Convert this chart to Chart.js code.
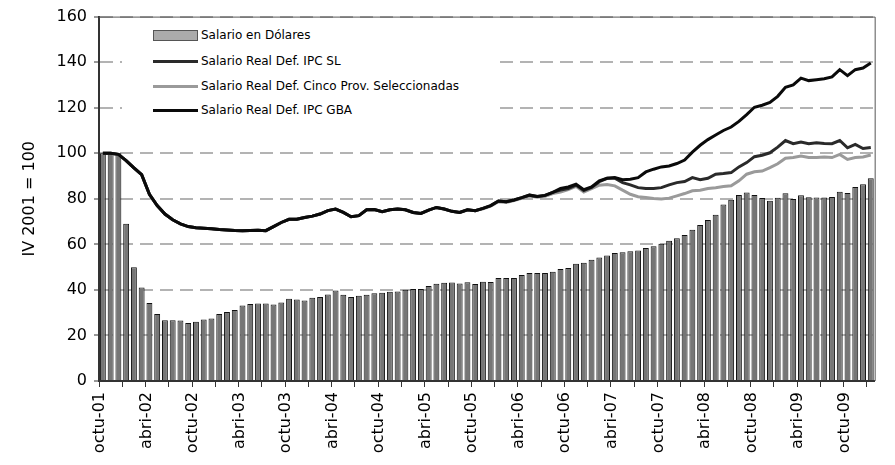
<!DOCTYPE html>
<html>
<head>
<meta charset="utf-8">
<script src="https://cdn.jsdelivr.net/npm/chart.js@4.4.1/dist/chart.umd.min.js"></script>
<style>
  html, body { margin: 0; padding: 0; background: #ffffff; }
  #wrap { position: relative; width: 895px; height: 465px; overflow: hidden; }
  #chart { position: absolute; left: 0; top: 0; }
  #legend { position: absolute; left: 122px; top: 20px; width: 376px; height: 100px; background: #ffffff; }
  .sw { position: absolute; left: 153px; width: 45px; box-sizing: border-box; }
  .lt { position: absolute; left: 201px; font-family: "DejaVu Sans", sans-serif; font-size: 12px; color: #000; line-height: 14px; white-space: nowrap; }
</style>
</head>
<body>
<div id="wrap">
  <canvas id="chart" width="895" height="465"></canvas>
  <div id="legendLayer"></div>
</div>
<script>
// ---------- DATA ----------
const categories = [
  "octu-01","novi-01","dici-01",
  "ener-02","febr-02","marz-02","abri-02","mayo-02","juni-02","juli-02","agos-02","sept-02","octu-02","novi-02","dici-02",
  "ener-03","febr-03","marz-03","abri-03","mayo-03","juni-03","juli-03","agos-03","sept-03","octu-03","novi-03","dici-03",
  "ener-04","febr-04","marz-04","abri-04","mayo-04","juni-04","juli-04","agos-04","sept-04","octu-04","novi-04","dici-04",
  "ener-05","febr-05","marz-05","abri-05","mayo-05","juni-05","juli-05","agos-05","sept-05","octu-05","novi-05","dici-05",
  "ener-06","febr-06","marz-06","abri-06","mayo-06","juni-06","juli-06","agos-06","sept-06","octu-06","novi-06","dici-06",
  "ener-07","febr-07","marz-07","abri-07","mayo-07","juni-07","juli-07","agos-07","sept-07","octu-07","novi-07","dici-07",
  "ener-08","febr-08","marz-08","abri-08","mayo-08","juni-08","juli-08","agos-08","sept-08","octu-08","novi-08","dici-08",
  "ener-09","febr-09","marz-09","abri-09","mayo-09","juni-09","juli-09","agos-09","sept-09","octu-09","novi-09","dici-09",
  "ener-10"
];

const seriesNames = [
  "Salario en Dólares",
  "Salario Real Def. IPC SL",
  "Salario Real Def. Cinco Prov. Seleccionadas",
  "Salario Real Def. IPC GBA"
];

const yTitle = "IV 2001 = 100";
const yTicks = [0, 20, 40, 60, 80, 100, 120, 140, 160];

const salarioDolares = [
  100, 100, 100, 69, 50, 41, 34.2, 29.4, 26.7, 26.7,
  26.6, 25.5, 26, 27, 27.4, 29.4, 30.3, 31.2, 33.2, 33.8,
  34, 34, 33.6, 34.5, 36.1, 35.8, 35.4, 36.5, 36.9, 38,
  39.7, 37.9, 36.9, 37.4, 37.9, 38.5, 38.7, 39.2, 39.3, 40.1,
  40.4, 40.4, 41.7, 42.7, 43.1, 43.3, 42.8, 43.4, 42.6, 43.6,
  43.5, 45.2, 45.2, 45.2, 46.5, 47.4, 47.4, 47.4, 48, 49.2,
  49.6, 51.5, 51.9, 53.2, 54.2, 55.1, 56.2, 56.5, 57, 57.3,
  58.4, 59.2, 60.3, 61.6, 62.7, 64.1, 66.4, 68.5, 70.7, 73,
  77.5, 79.6, 81.7, 82.8, 81.7, 80.3, 79.1, 80.5, 82.4, 79.9,
  81.6, 80.7, 80.6, 80.6, 80.8, 83.1, 82.5, 85.2, 86.4, 89
];

const salarioRealSL = [
  100, 100, 99.5, 96.8, 93.6, 90.6, 82, 77, 73.3, 70.8,
  69, 67.8, 67.3, 67.1, 66.9, 66.5, 66.3, 66.1, 66, 66.1,
  66.2, 66, 67.8, 69.6, 71, 71, 71.8, 72.4, 73.3, 74.8,
  75.5, 74, 72.1, 72.6, 75.2, 75.3, 74.3, 75.2, 75.5, 75.2,
  74, 73.6, 75, 76.2, 75.5, 74.5, 74, 75.2, 74.8, 75.8,
  77, 79, 78.7, 79.5, 80.5, 81.6, 81, 81.5, 82.8, 83.8,
  84.5, 86, 83.6, 85, 87.5, 89, 89, 87.1, 86.1, 84.9,
  84.5, 84.5, 84.9, 86.1, 87.1, 87.6, 89.3, 88.4, 89, 90.8,
  91.1, 91.5, 94, 95.9, 98.5, 99.1, 100.2, 102.7, 105.6, 104.2,
  104.9, 104.2, 104.6, 104.3, 104.2, 105.6, 102.4, 103.9, 102.1, 102.5
];

const salarioRealCinco = [
  100, 100, 99.5, 96.8, 93.6, 90.6, 82, 77, 73.3, 70.8,
  69, 67.8, 67.3, 67.1, 66.9, 66.5, 66.3, 66.1, 66, 66.1,
  66.2, 66, 67.8, 69.6, 71, 71, 71.8, 72.4, 73.3, 74.8,
  75.5, 74, 72.1, 72.6, 75.2, 75.3, 74.3, 75.2, 75.5, 75.2,
  74, 73.6, 75, 76.2, 75.5, 74.5, 74, 75.2, 74.8, 75.6,
  76.8, 78.7, 78.4, 79.2, 80.2, 81.2, 80.7, 81.1, 82.3, 83,
  84, 85.5, 83, 84.5, 86, 86.3, 85.7, 83.8, 82, 80.9,
  80.6, 80.1, 79.9, 80.3, 81.3, 82.3, 83.5, 83.8, 84.5, 84.9,
  85.4, 85.7, 87.9, 90.8, 91.9, 92.2, 93.7, 95.4, 97.8, 98.1,
  98.8, 98.1, 98.1, 98.4, 98.1, 99.5, 97.3, 98.1, 98.4, 99.2
];

const salarioRealGBA = [
  100, 100, 99.5, 96.8, 93.6, 90.6, 82, 77, 73.3, 70.8,
  69, 67.8, 67.3, 67.1, 66.9, 66.5, 66.3, 66.1, 66, 66.1,
  66.2, 66, 67.8, 69.6, 71, 71, 71.8, 72.4, 73.3, 74.8,
  75.5, 74, 72.1, 72.6, 75.2, 75.3, 74.3, 75.2, 75.5, 75.2,
  74, 73.6, 75, 76.2, 75.5, 74.5, 74, 75.2, 74.8, 75.8,
  77, 79, 78.7, 79.5, 80.5, 81.6, 81, 81.5, 82.8, 84.5,
  85.2, 86.4, 84, 85.2, 87.9, 89, 89.3, 88.4, 88.6, 89.3,
  91.8, 93, 94, 94.4, 95.5, 97, 100.5, 103.5, 106, 108,
  110, 111.5, 114, 117, 120.2, 121.1, 122.3, 125, 129, 130,
  133, 131.9, 132.3, 132.7, 133.5, 136.7, 134.1, 136.7, 137.4, 139.6
];

// ---------- CHART ----------
const FONT = "DejaVu Sans";

const framePlugin = {
  id: 'frame',
  afterDraw(chart) {
    const { ctx, chartArea: a } = chart;
    ctx.save();
    ctx.strokeStyle = '#555';
    ctx.lineWidth = 1;
    ctx.beginPath();
    ctx.moveTo(a.left, a.top + 0.5);
    ctx.lineTo(a.right + 0.5, a.top + 0.5);
    ctx.lineTo(a.right + 0.5, a.bottom);
    ctx.stroke();
    ctx.restore();
  }
};

const ctx = document.getElementById('chart').getContext('2d');
const chart = new Chart(ctx, {
  type: 'bar',
  data: {
    labels: categories,
    datasets: [
      { type: 'bar', label: seriesNames[0], data: salarioDolares,
        backgroundColor: '#767676', borderColor: '#111111', borderWidth: 1,
        barPercentage: 0.76, categoryPercentage: 1, order: 4 },
      { type: 'line', label: seriesNames[1], data: salarioRealSL,
        borderColor: '#2a2a2a', backgroundColor: '#2a2a2a', borderWidth: 3,
        pointRadius: 0, tension: 0, fill: false, order: 2 },
      { type: 'line', label: seriesNames[2], data: salarioRealCinco,
        borderColor: '#9a9a9a', backgroundColor: '#9a9a9a', borderWidth: 3,
        pointRadius: 0, tension: 0, fill: false, order: 3 },
      { type: 'line', label: seriesNames[3], data: salarioRealGBA,
        borderColor: '#0a0a0a', backgroundColor: '#0a0a0a', borderWidth: 3,
        pointRadius: 0, tension: 0, fill: false, order: 1 }
    ]
  },
  options: {
    responsive: false,
    animation: false,
    devicePixelRatio: 1,
    layout: { padding: { top: 15, right: 3, left: 0, bottom: 0 } },
    plugins: { legend: { display: false }, tooltip: { enabled: false } },
    scales: {
      x: {
        offset: true,
        grid: {
          offset: true,
          drawOnChartArea: false,
          drawTicks: true,
          tickLength: 6,
          tickWidth: 1,
          color: c => (c.index !== undefined && c.index % 3 === 0) ? '#333' : 'rgba(0,0,0,0)'
        },
        border: { display: true, color: '#333', width: 2 },
        ticks: {
          autoSkip: false,
          maxRotation: 90,
          minRotation: 90,
          padding: 5,
          labelOffset: -3,
          color: '#000',
          font: { family: FONT, size: 16 },
          callback: (v, i) => (i % 6 === 0 ? categories[i] : '')
        },
        afterFit: s => { s.height = 84; }
      },
      y: {
        min: 0,
        max: 160,
        afterBuildTicks: s => { s.ticks = yTicks.map(v => ({ value: v })); },
        ticks: { padding: 7, color: '#000', font: { family: FONT, size: 16 } },
        grid: {
          color: c => (c.tick && c.tick.value === 0) ? 'rgba(0,0,0,0)' : '#b3b3b3',
          lineWidth: 2,
          tickColor: '#333',
          tickLength: 5,
          tickWidth: 1,
          tickBorderDash: []
        },
        border: { display: true, color: '#333', width: 2, dash: [13, 7] },
        title: {
          display: true, text: yTitle, color: '#000',
          font: { family: FONT, size: 16 },
          padding: { top: 20, bottom: 0 }
        },
        afterFit: s => { s.width = 99; }
      }
    }
  },
  plugins: [framePlugin]
});

// ---------- LEGEND (HTML, built from the chart's datasets) ----------
(function buildLegend() {
  const layer = document.getElementById('legendLayer');
  const bg = document.createElement('div');
  bg.id = 'legend';
  layer.appendChild(bg);
  const rowCenters = [35, 61, 86, 110];
  chart.data.datasets.forEach((ds, i) => {
    const cy = rowCenters[i];
    const sw = document.createElement('div');
    sw.className = 'sw';
    if (ds.type === 'bar') {
      sw.style.top = (cy - 5) + 'px';
      sw.style.height = '11px';
      sw.style.background = '#ababab';
      sw.style.border = '1px solid #555';
    } else {
      sw.style.top = (cy - 1.5) + 'px';
      sw.style.height = '3px';
      sw.style.background = ds.borderColor;
    }
    layer.appendChild(sw);
    const t = document.createElement('div');
    t.className = 'lt';
    t.style.top = (cy - 7) + 'px';
    t.textContent = ds.label;
    layer.appendChild(t);
  });
})();
</script>
</body>
</html>
